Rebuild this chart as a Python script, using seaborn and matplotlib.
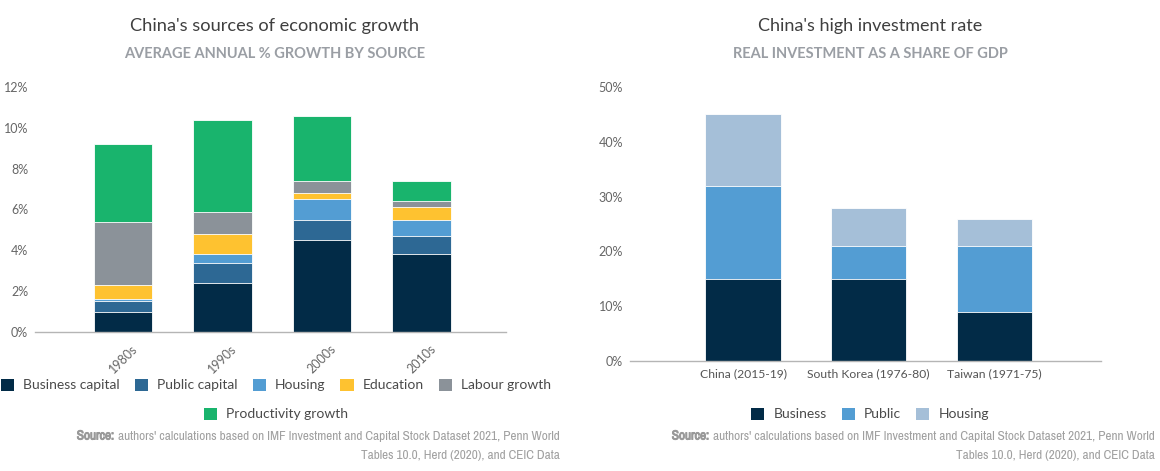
import matplotlib
matplotlib.use('Agg')
import matplotlib.pyplot as plt
import matplotlib.font_manager as fm
import matplotlib.patheffects as pe
import seaborn as sns
import numpy as np
import pandas as pd
from matplotlib.patches import Patch
from matplotlib.ticker import FuncFormatter

# ---------------- data ----------------
decades = ['1980s', '1990s', '2000s', '2010s']
business_capital = [1.0, 2.4, 4.5, 3.8]
public_capital = [0.5, 1.0, 1.0, 0.9]
housing = [0.1, 0.4, 1.0, 0.8]
education = [0.7, 1.0, 0.3, 0.6]
labour_growth = [3.1, 1.1, 0.6, 0.3]
productivity_growth = [3.8, 4.5, 3.2, 1.0]
growth_sources = ['Business capital', 'Public capital', 'Housing', 'Education',
                  'Labour growth', 'Productivity growth']
growth_ticks = [0, 2, 4, 6, 8, 10, 12]

economies = ['China (2015-19)', 'South Korea (1976-80)', 'Taiwan (1971-75)']
inv_business = [15, 15, 9]
inv_public = [17, 6, 12]
inv_housing = [13, 7, 5]
inv_types = ['Business', 'Public', 'Housing']
inv_ticks = [0, 10, 20, 30, 40, 50]

growth_colors = ['#022B47', '#2D6894', '#539DD3', '#FEC230', '#8B9299', '#19B46D']
inv_colors = ['#022B47', '#539DD3', '#A5BFD8']

W, H = 1160, 471
sns.set_theme(style='white')
plt.rcParams['font.family'] = ['Lato', 'DejaVu Sans']

# find a condensed / narrow family for the source note, if one is installed
COND = None
for f in fm.fontManager.ttflist:
    n = f.name.lower()
    if ('condensed' in n or 'narrow' in n) and COND is None:
        COND = f.name
for f in fm.fontManager.ttflist:
    if f.stretch in ('condensed', 'semi-condensed', 'extra-condensed') and COND is None:
        COND = f.name
COND_FAMILY = [COND, 'DejaVu Sans'] if COND else ['Roboto', 'DejaVu Sans']

fig = plt.figure(figsize=(W / 100, H / 100), dpi=100)
ax1 = fig.add_axes([35 / W, 1 - 332 / H, 471 / W, 245 / H])
ax2 = fig.add_axes([630 / W, 1 - 361 / H, 471 / W, 274 / H])


def stacked(ax, cats, layers, colors, width):
    cum = np.cumsum(np.array(layers, dtype=float), axis=0)
    for i in range(len(layers) - 1, -1, -1):
        df = pd.DataFrame({'cat': cats, 'val': cum[i]})
        sns.barplot(data=df, x='cat', y='val', color=colors[i], saturation=1,
                    width=width, ax=ax, edgecolor='white', linewidth=0.6,
                    errorbar=None)


def style_axis(ax, ticks, xlim):
    ax.set_ylim(ticks[0], ticks[-1])
    ax.set_yticks(ticks)
    ax.yaxis.set_major_formatter(FuncFormatter(lambda v, p: f'{v:.0f}%'))
    ax.set_xlim(*xlim)
    for s in ['top', 'right', 'left']:
        ax.spines[s].set_visible(False)
    ax.spines['bottom'].set_color('#b5b5b5')
    ax.spines['bottom'].set_linewidth(1.0)
    ax.tick_params(axis='both', length=0, colors='#666666', labelsize=9)
    ax.tick_params(axis='y', pad=5)
    ax.set_xlabel('')
    ax.set_ylabel('')
    ax.grid(False)


# ---- left chart ----
stacked(ax1, decades, [business_capital, public_capital, housing, education,
                       labour_growth, productivity_growth], growth_colors, 0.59)
style_axis(ax1, growth_ticks, (-0.885, 3.85))
for lab in ax1.get_xticklabels():
    lab.set_rotation(45)
    lab.set_ha('center')
    lab.set_va('top')
ax1.tick_params(axis='x', pad=8)

# ---- right chart ----
stacked(ax2, economies, [inv_business, inv_public, inv_housing], inv_colors, 0.6)
style_axis(ax2, inv_ticks, (-0.90, 2.85))
ax2.tick_params(axis='x', pad=5, colors='#555555', labelsize=8.7)

fig.canvas.draw()
renderer = fig.canvas.get_renderer()


def fit(t, target_px, max_size=None):
    w = t.get_window_extent(renderer).width
    size = t.get_fontsize() * target_px / w
    if max_size:
        size = min(size, max_size)
    t.set_fontsize(size)
    return t


# ---- titles ----
t = fig.text(275 / W, 1 - 26 / H, "China's sources of economic growth", ha='center',
             va='center', fontsize=13, color='#3f3f3f')
fit(t, 288)
t = fig.text(275 / W, 1 - 54 / H, 'AVERAGE ANNUAL % GROWTH BY SOURCE', ha='center',
             va='center', fontsize=9.5, color='#9a9ea4', fontweight='bold')
fit(t, 307, 10.5)
t = fig.text(870 / W, 1 - 26 / H, "China's high investment rate", ha='center',
             va='center', fontsize=13, color='#3f3f3f')
fit(t, 224)
t = fig.text(870 / W, 1 - 54 / H, 'REAL INVESTMENT AS A SHARE OF GDP', ha='center',
             va='center', fontsize=9.5, color='#9a9ea4', fontweight='bold')
fit(t, 285, 10.5)

# ---- legends ----
handles = [Patch(facecolor=c, edgecolor='none', label=l)
           for l, c in zip(growth_sources, growth_colors)]
leg_kw = dict(frameon=False, handlelength=0.95, handleheight=0.95,
              handletextpad=0.65, columnspacing=1.08, fontsize=10,
              labelcolor='#4a4a4a', borderpad=0, borderaxespad=0)
fig.legend(handles=handles[:5], loc='center', ncol=5,
           bbox_to_anchor=(276 / W, 1 - 385 / H), **leg_kw)
fig.legend(handles=handles[5:], loc='center', ncol=1,
           bbox_to_anchor=(276 / W, 1 - 414 / H), **leg_kw)
inv_handles = [Patch(facecolor=c, edgecolor='none', label=l)
               for l, c in zip(inv_types, inv_colors)]
fig.legend(handles=inv_handles, loc='center', ncol=3,
           bbox_to_anchor=(870 / W, 1 - 414 / H), **leg_kw)

# ---- source notes ----
line1 = "authors' calculations based on IMF Investment and Capital Stock Dataset 2021, Penn World"
line2 = "Tables 10.0, Herd (2020), and CEIC Data"


def source(x_right, y1, y2):
    t1 = fig.text(x_right / W, 1 - y1 / H, line1, ha='right', va='center',
                  fontsize=9, color='#a0a0a0', family=COND_FAMILY)
    fit(t1, 468, 9.5)
    size = t1.get_fontsize()
    fig.text(x_right / W, 1 - y2 / H + 0.002, line2, ha='right', va='center',
             fontsize=size, color='#a0a0a0', family=COND_FAMILY)
    bb = t1.get_window_extent(renderer)
    fig.text((bb.x0 - 4) / W, 1 - y1 / H, 'Source:', ha='right', va='center',
             fontsize=size, color='#999999', fontweight='bold', family=COND_FAMILY,
             path_effects=[pe.withStroke(linewidth=0.7, foreground='#999999')])


source(560, 436, 456)
source(1155, 436, 456)

fig.savefig('out.png', dpi=100)
